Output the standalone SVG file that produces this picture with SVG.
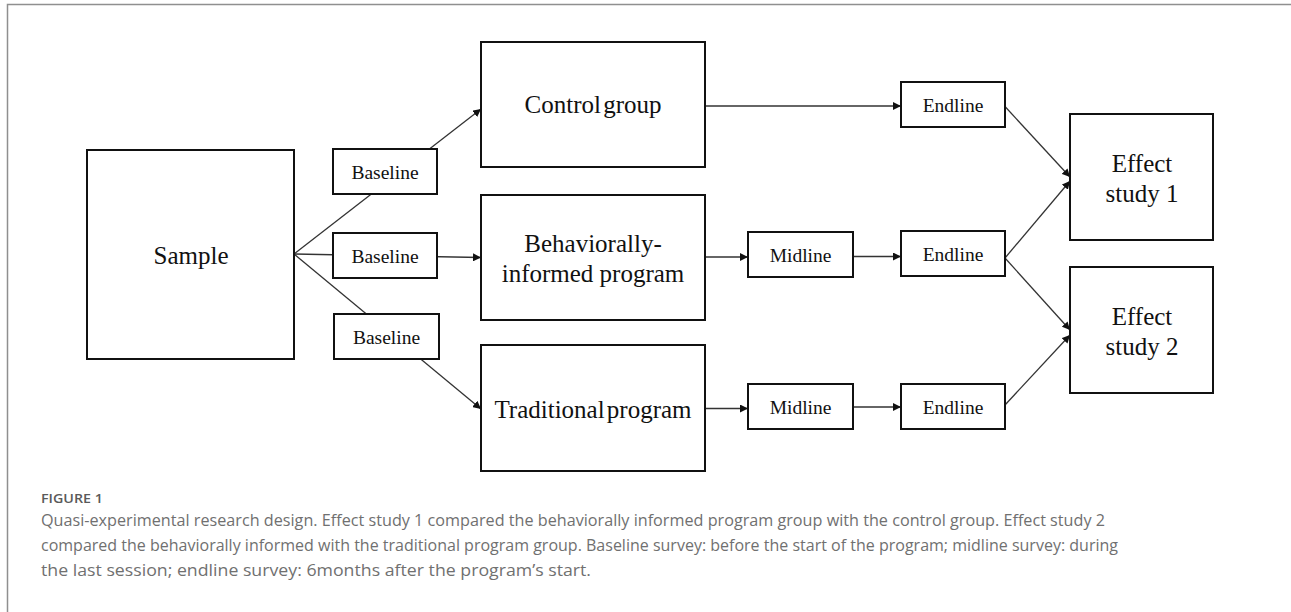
<svg xmlns="http://www.w3.org/2000/svg" width="1291" height="612" viewBox="0 0 1291 612">
  <defs>
    <marker id="arr" viewBox="0 0 10 10" refX="10" refY="5" markerWidth="8" markerHeight="8" markerUnits="userSpaceOnUse" orient="auto">
      <path d="M0,0 L10,5 L0,10 z" fill="#111"/>
    </marker>
  </defs>
  <style>
    .box { fill: #fff; stroke: #111; stroke-width: 2; }
    .big { font-family: "Liberation Serif", "Times New Roman", serif; font-size: 25px; fill: #111; text-anchor: middle; }
    .sm { font-family: "Liberation Serif", "Times New Roman", serif; font-size: 19.5px; fill: #111; text-anchor: middle; }
    .con { stroke: #333; stroke-width: 1.3; fill: none; }
    .cap { font-family: "Open Sans", Lato, sans-serif; font-size: 15.5px; font-weight: 400; fill: #707070; }
    .fig { font-family: "Open Sans", sans-serif; font-size: 13px; font-weight: 600; fill: #5a5a5a; }
    .frame { stroke: #8f8f8f; stroke-width: 1.5; fill: none; }
  </style>
  <rect width="1291" height="612" fill="#fff"/>
  <path class="frame" d="M7.5,612 L7.5,4.5 L1291,4.5"/>

  <g id="connectors">
    <line class="con" x1="294" y1="254" x2="481" y2="109" marker-end="url(#arr)"/>
    <line class="con" x1="294" y1="254" x2="481" y2="257.5" marker-end="url(#arr)"/>
    <line class="con" x1="294" y1="254" x2="481" y2="409" marker-end="url(#arr)"/>
    <line class="con" x1="705" y1="106" x2="901" y2="106" marker-end="url(#arr)"/>
    <line class="con" x1="705" y1="257" x2="748" y2="257" marker-end="url(#arr)"/>
    <line class="con" x1="853" y1="256.5" x2="901" y2="256.5" marker-end="url(#arr)"/>
    <line class="con" x1="705" y1="408.5" x2="748" y2="408.5" marker-end="url(#arr)"/>
    <line class="con" x1="853" y1="407" x2="901" y2="407" marker-end="url(#arr)"/>
    <line class="con" x1="1005" y1="106.5" x2="1070" y2="177" marker-end="url(#arr)"/>
    <line class="con" x1="1005" y1="258" x2="1070" y2="181" marker-end="url(#arr)"/>
    <line class="con" x1="1005" y1="258" x2="1070" y2="330" marker-end="url(#arr)"/>
    <line class="con" x1="1005" y1="405" x2="1070" y2="335" marker-end="url(#arr)"/>
  </g>

  <g id="sample">
    <rect class="box" x="87" y="150" width="207" height="209"/>
    <text class="big" x="191" y="264">Sample</text>
  </g>
  <g id="baseline1">
    <rect class="box" x="333" y="149" width="104" height="45"/>
    <text class="sm" x="385" y="179">Baseline</text>
  </g>
  <g id="baseline2">
    <rect class="box" x="333" y="233" width="104" height="45"/>
    <text class="sm" x="385" y="263">Baseline</text>
  </g>
  <g id="baseline3">
    <rect class="box" x="334" y="314" width="105" height="45"/>
    <text class="sm" x="386.5" y="344">Baseline</text>
  </g>
  <g id="control">
    <rect class="box" x="481" y="42" width="224" height="125"/>
    <text class="big" x="593" y="113" word-spacing="-4">Control group</text>
  </g>
  <g id="behavioral">
    <rect class="box" x="481" y="195" width="224" height="125"/>
    <text class="big" x="593" y="251.5">Behaviorally-</text>
    <text class="big" x="593" y="281.5">informed program</text>
  </g>
  <g id="traditional">
    <rect class="box" x="481" y="345" width="224" height="126"/>
    <text class="big" x="593" y="418" word-spacing="-4">Traditional program</text>
  </g>
  <g id="midline1">
    <rect class="box" x="748" y="232" width="105" height="45"/>
    <text class="sm" x="800.5" y="262">Midline</text>
  </g>
  <g id="midline2">
    <rect class="box" x="748" y="384" width="105" height="45"/>
    <text class="sm" x="800.5" y="414">Midline</text>
  </g>
  <g id="endline1">
    <rect class="box" x="901" y="82" width="104" height="45"/>
    <text class="sm" x="953" y="112">Endline</text>
  </g>
  <g id="endline2">
    <rect class="box" x="901" y="231" width="104" height="45"/>
    <text class="sm" x="953" y="261">Endline</text>
  </g>
  <g id="endline3">
    <rect class="box" x="901" y="384" width="104" height="45"/>
    <text class="sm" x="953" y="414">Endline</text>
  </g>
  <g id="effect1">
    <rect class="box" x="1070" y="114" width="143" height="126"/>
    <text class="big" x="1142" y="171.5">Effect</text>
    <text class="big" x="1142" y="201.5">study 1</text>
  </g>
  <g id="effect2">
    <rect class="box" x="1070" y="267" width="143" height="126"/>
    <text class="big" x="1142" y="325">Effect</text>
    <text class="big" x="1142" y="355">study 2</text>
  </g>

  <g id="caption">
    <text class="fig" x="41" y="503" textLength="62" lengthAdjust="spacingAndGlyphs">FIGURE 1</text>
    <text class="cap" x="41" y="526" textLength="1064" lengthAdjust="spacingAndGlyphs">Quasi-experimental research design. Effect study 1 compared the behaviorally informed program group with the control group. Effect study 2</text>
    <text class="cap" x="41" y="551" textLength="1077" lengthAdjust="spacingAndGlyphs">compared the behaviorally informed with the traditional program group. Baseline survey: before the start of the program; midline survey: during</text>
    <text class="cap" x="41" y="576" textLength="550" lengthAdjust="spacingAndGlyphs">the last session; endline survey: 6months after the program’s start.</text>
  </g>
</svg>
